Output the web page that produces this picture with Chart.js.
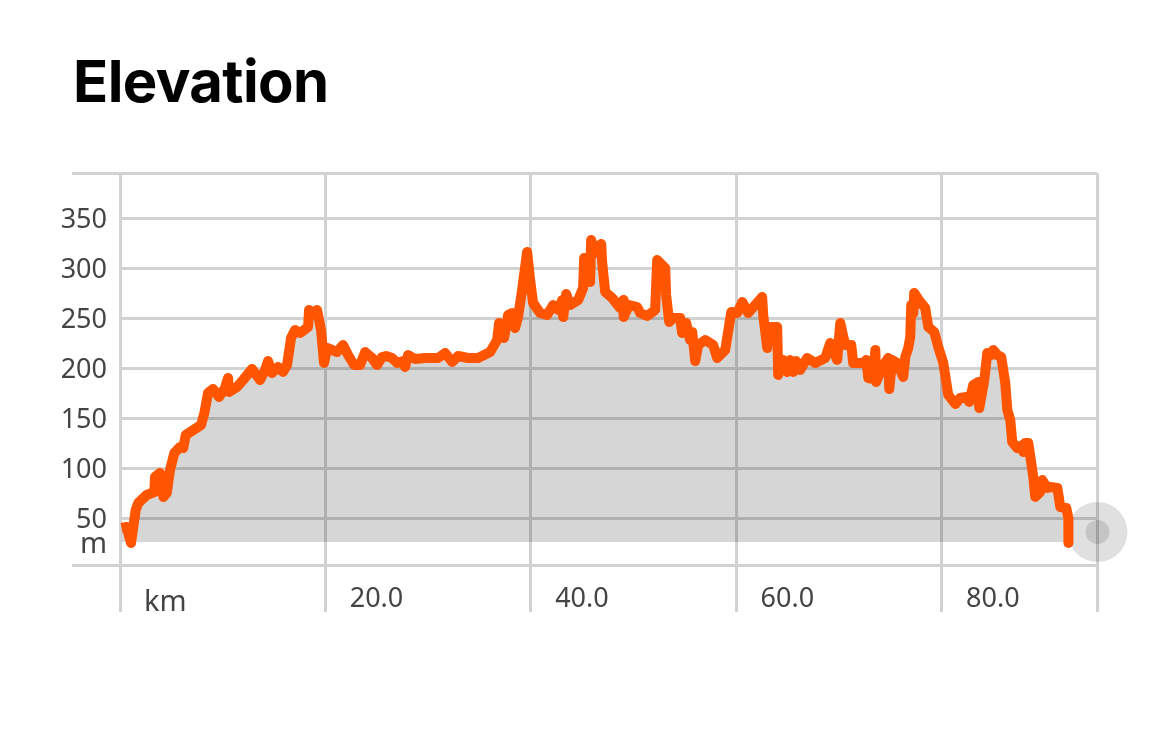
<!DOCTYPE html>
<html>
<head>
<meta charset="utf-8">
<title>Elevation</title>
<script src="https://cdn.jsdelivr.net/npm/chart.js@4"></script>
<style>
    body { margin: 0; background: #fff; }
    h1 {
        position: absolute; left: 73px; top: 46px; margin: 0;
        font: 700 58px Inter, sans-serif; letter-spacing: -0.6px; color: #000;
    }
    canvas { display: block; }
</style>
</head>
<body>
<h1>Elevation</h1>
<canvas id="elevationChart" width="1170" height="754"></canvas>
<script>
// Values
const elevationKm = [
    0.15, 0.63, 1.07, 1.53, 1.78, 2.6, 3.34, 3.41, 3.89, 4.22, 4.55, 4.87, 5.29, 5.84, 6.16, 6.4,
    7.14, 7.89, 8.21, 8.57, 9.06, 9.64, 10.22, 10.52, 10.61, 11.39, 11.98, 12.85, 13.63, 14.12, 14.41, 14.8,
    15.38, 15.87, 16.26, 16.65, 17.04, 17.53, 18.31, 18.4, 18.79, 19.18, 19.57, 19.86, 20.16, 21.13, 21.71, 22.2,
    22.79, 23.37, 23.86, 24.54, 25.02, 25.51, 25.9, 26.48, 26.97, 27.56, 27.75, 28.04, 28.72, 29.7, 30.96, 31.65,
    32.33, 32.91, 33.89, 34.86, 36.03, 36.71, 36.9, 37.39, 37.78, 38.17, 38.46, 38.75, 39.14, 39.63, 39.92, 40.21,
    40.9, 41.58, 42.16, 42.65, 43.04, 43.14, 43.43, 43.82, 44.6, 45.08, 45.18, 45.57, 45.76, 45.86, 46.25, 46.84,
    46.93, 47.23, 47.91, 48.69, 48.98, 49.03, 49.56, 50.34, 50.63, 51.31, 52.09, 52.29, 53.07, 53.16, 53.46, 53.85,
    54.53, 54.72, 55.11, 55.5, 55.7, 55.99, 56.28, 56.96, 57.74, 58.13, 58.91, 59.3, 59.5, 60.08, 60.57, 61.15,
    61.83, 62.51, 62.61, 63, 63.19, 63.97, 64.07, 64.56, 64.95, 65.24, 65.53, 65.82, 66.21, 66.89, 67.67, 68.65,
    69.13, 69.81, 70.11, 70.59, 71.18, 71.37, 72.35, 72.64, 72.84, 73.32, 73.52, 73.61, 74.2, 74.78, 74.88, 75.17,
    75.66, 76.24, 76.44, 76.73, 76.92, 77.02, 77.22, 77.31, 77.9, 78.38, 78.68, 79.26, 79.65, 80.14, 80.62, 81.31,
    81.79, 82.38, 82.67, 83.06, 83.54, 83.64, 84.13, 84.42, 84.81, 85, 85.39, 85.78, 86.17, 86.37, 86.66, 86.85,
    87.34, 87.83, 87.93, 88.12, 88.41, 88.9, 89.09, 89.58, 89.78, 90.26, 90.55, 91.24, 91.53, 92.11, 92.31, 92.32
];
const elevationM = [
    40, 41, 25, 58, 65, 73, 76, 91, 95, 71, 75, 98, 115, 121, 120, 133,
    138, 143, 155, 175, 179, 171, 180, 190, 176, 181, 188, 199, 188, 198, 207, 195,
    201, 196, 203, 230, 238, 235, 241, 258, 255, 258, 238, 205, 220, 216, 223, 213,
    203, 203, 216, 210, 203, 211, 212, 210, 205, 207, 201, 213, 209, 210, 210, 215,
    206, 212, 210, 210, 216, 228, 245, 230, 253, 255, 240, 251, 278, 316, 288, 265,
    255, 253, 263, 258, 268, 251, 274, 263, 268, 280, 310, 310, 286, 328, 315, 324,
    306, 276, 270, 260, 268, 251, 263, 261, 255, 252, 258, 308, 300, 273, 246, 250,
    250, 235, 245, 228, 236, 207, 223, 228, 223, 210, 218, 243, 256, 255, 266, 255,
    263, 271, 253, 220, 241, 241, 193, 208, 196, 208, 196, 207, 198, 210, 205, 210,
    225, 208, 245, 223, 223, 205, 205, 208, 190, 189, 218, 186, 201, 210, 179, 208,
    205, 191, 211, 220, 231, 263, 255, 275, 266, 260, 241, 236, 221, 205, 173, 164,
    170, 171, 166, 183, 186, 160, 188, 215, 213, 218, 213, 211, 185, 158, 148, 126,
    120, 123, 116, 125, 125, 91, 71, 76, 88, 80, 81, 80, 61, 60, 50, 25
];
const markerKm = [95.15];
const markerM = [36];

const kmTicks = [0, 20, 40, 60, 80, 95.1];
const kmLabels = ["", "20.0", "40.0", "60.0", "80.0", ""];
const mTicks = [3, 50, 100, 150, 200, 250, 300, 350, 395];
const mLabels = ["", "50", "100", "150", "200", "250", "300", "350", ""];

const gridColor = "rgb(210, 210, 210)";
const textColor = "#444";
const tickFont = { family: "'Noto Sans', sans-serif", size: 27 };

// The "km" and "m" unit labels do not sit on a tick
const unitLabels = {
    id: "unitLabels",
    afterDraw(chart) {
        const ctx = chart.ctx;
        ctx.save();
        ctx.fillStyle = textColor;
        ctx.textBaseline = "middle";
        ctx.font = "29px 'Noto Sans', sans-serif";
        ctx.textAlign = "left";
        ctx.fillText("km", 144, 603);
        ctx.textAlign = "right";
        ctx.fillText("m", 107, 545);
        ctx.restore();
    },
};

const ctx = document.getElementById("elevationChart").getContext("2d");
new Chart(ctx, {
    type: "line",
    plugins: [unitLabels],
    data: {
        datasets: [
            {
                data: elevationKm.map((km, i) => ({ x: km, y: elevationM[i] })),
                borderColor: "#ff5500",
                borderWidth: 10,
                borderJoinStyle: "round",
                backgroundColor: "rgba(0, 0, 0, 0.16)",
                fill: { value: 26 },
                pointRadius: 0,
                tension: 0,
            },
            {
                data: markerKm.map((km, i) => ({ x: km, y: markerM[i] })),
                pointRadius: 12,
                pointBackgroundColor: "rgba(0, 0, 0, 0.12)",
                pointBorderWidth: 0,
                showLine: false,
                clip: false,
            },
            {
                data: markerKm.map((km, i) => ({ x: km, y: markerM[i] })),
                pointRadius: 30,
                pointBackgroundColor: "rgba(0, 0, 0, 0.12)",
                pointBorderWidth: 0,
                showLine: false,
                clip: false,
            },
        ],
    },
    options: {
        responsive: false,
        animation: false,
        devicePixelRatio: 1,
        layout: { padding: { top: 173, right: 73 } },
        plugins: {
            legend: { display: false },
            title: { display: false },
            tooltip: { enabled: false },
        },
        scales: {
            x: {
                type: "linear",
                min: 0,
                max: 95.1,
                border: { display: false },
                afterBuildTicks: (scale) => { scale.ticks = kmTicks.map((v) => ({ value: v })); },
                afterFit: (scale) => { scale.height = 189; },
                grid: { color: gridColor, lineWidth: 3, tickLength: 47, tickColor: gridColor },
                ticks: {
                    callback: (value) => kmLabels[kmTicks.indexOf(value)],
                    autoSkip: false,
                    maxRotation: 0,
                    labelOffset: 51,
                    padding: -29,
                    color: textColor,
                    font: tickFont,
                },
            },
            y: {
                type: "linear",
                min: 3,
                max: 395,
                border: { display: false },
                afterBuildTicks: (scale) => { scale.ticks = mTicks.map((v) => ({ value: v })); },
                afterFit: (scale) => { scale.width = 120; },
                grid: {
                    color: gridColor,
                    lineWidth: 3,
                    tickLength: 48,
                    tickColor: (c) => (c.tick.value === 3 || c.tick.value === 395 ? gridColor : "transparent"),
                },
                ticks: {
                    callback: (value) => mLabels[mTicks.indexOf(value)],
                    autoSkip: false,
                    padding: -35,
                    labelOffset: 2,
                    color: textColor,
                    font: tickFont,
                },
            },
        },
    },
});
</script>
</body>
</html>
